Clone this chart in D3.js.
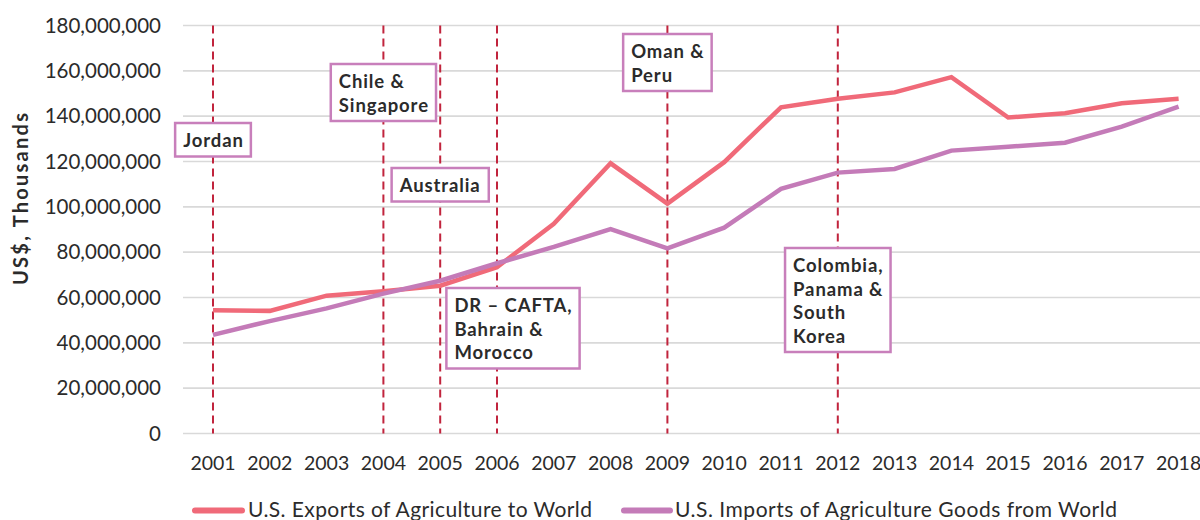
<!DOCTYPE html>
<html><head><meta charset="utf-8">
<script src="https://cdn.jsdelivr.net/npm/d3@7"></script>
<style>
html,body{margin:0;padding:0;background:#fff;}
svg{display:block;font-family:Lato,"Open Sans",sans-serif;}
</style></head>
<body>
<svg id="chart" width="1200" height="520"></svg>
<script>
const years = [2001,2002,2003,2004,2005,2006,2007,2008,2009,2010,2011,2012,2013,2014,2015,2016,2017,2018];
const exportsWorld = [54.4,54.1,60.8,62.8,65.2,73.4,92.5,119.2,101.4,119.7,143.9,147.7,150.5,157.2,139.4,141.3,145.7,147.7].map(v=>v*1e6);
const importsWorld = [43.5,49.6,55.2,61.7,67.4,75.1,82.3,90.2,81.7,90.8,107.9,115.1,116.7,124.8,126.5,128.3,135.4,144.2].map(v=>v*1e6);
const yTicks = [0,20e6,40e6,60e6,80e6,100e6,120e6,140e6,160e6,180e6];
const seriesNames = ["U.S. Exports of Agriculture to World","U.S. Imports of Agriculture Goods from World"];
const agreementYears = [2001,2004,2005,2006,2009,2012];
const agreementLabels = [["Jordan"],["Chile &","Singapore"],["Australia"],["DR \u2013 CAFTA,","Bahrain &","Morocco"],["Oman &","Peru"],["Colombia,","Panama &","South","Korea"]];

// layout (pixel placement of annotation boxes)
const boxTop = [123,64,168,288,34,248];
const boxDx = [0,0,0,16,0,0];

const colors = {exp:"#f06a79", imp:"#c47bb8", drop:"#c1243d", grid:"#d9d9d9", box:"#c87fbb", text:"#2b2b2b"};

const svg = d3.select("#chart");
const x = d3.scalePoint().domain(years).range([184.6,1207]).padding(0.5);
const y = d3.scaleLinear().domain([0,180e6]).range([433.5,25.5]);
const gridX0 = 183, gridX1 = 1200;

// grid
svg.append("g").selectAll("line").data(yTicks).join("line")
  .attr("x1",gridX0).attr("x2",gridX1)
  .attr("y1",d=>y(d)).attr("y2",d=>y(d))
  .attr("stroke",colors.grid).attr("stroke-width",1.6);

// y axis labels
const fmt = d3.format(",");
svg.append("g").selectAll("text").data(yTicks).join("text")
  .attr("x",161).attr("y",d=>y(d)).attr("dy","0.35em")
  .attr("text-anchor","end").attr("font-size",20.5).attr("fill",colors.text)
  .text(d=>fmt(d));

// x axis labels
svg.append("g").selectAll("text").data(years).join("text")
  .attr("x",d=>x(d)).attr("y",463).attr("dy","0.35em")
  .attr("text-anchor","middle").attr("font-size",19.5).attr("fill",colors.text)
  .text(d=>d);

// y title
svg.append("text").attr("transform","translate(21,199) rotate(-90)")
  .attr("text-anchor","middle").attr("dy","0.35em")
  .attr("font-size",20).attr("font-weight","bold").attr("fill",colors.text)
  .attr("textLength",172).attr("lengthAdjust","spacing")
  .text("US$, Thousands");

// dashed vertical lines
svg.append("g").selectAll("line").data(agreementYears).join("line")
  .attr("x1",d=>x(d)).attr("x2",d=>x(d))
  .attr("y1",y(180e6)).attr("y2",y(0))
  .attr("stroke",colors.drop).attr("stroke-width",2).attr("stroke-dasharray","8,5");

// series lines
const line = d3.line().x((d,i)=>x(years[i])).y(d=>y(d));
svg.append("path").datum(exportsWorld).attr("d",line)
  .attr("fill","none").attr("stroke",colors.exp).attr("stroke-width",4.5).attr("stroke-linejoin","miter");
svg.append("path").datum(importsWorld).attr("d",line)
  .attr("fill","none").attr("stroke",colors.imp).attr("stroke-width",4.5).attr("stroke-linejoin","miter");

// annotation boxes
const lh = 23.5, ls = 0.9;
agreementYears.forEach((yr,i)=>{
  const g = svg.append("g");
  const rect = g.append("rect");
  const t = g.append("text").attr("font-size",18.5).attr("font-weight","bold")
    .attr("letter-spacing",ls).attr("fill",colors.text);
  agreementLabels[i].forEach((s,j)=>{
    t.append("tspan").attr("x",0).attr("y",j*lh).text(s);
  });
  const bb = t.node().getBBox();
  const padX = 8;
  const w = bb.width - ls + padX*2;
  const h = agreementLabels[i].length*lh + 10;
  const cx = x(yr) + boxDx[i];
  const left = cx - w/2, top = boxTop[i];
  rect.attr("x",left).attr("y",top).attr("width",w).attr("height",h)
    .attr("fill","#fff").attr("stroke",colors.box).attr("stroke-width",2.5);
  t.attr("transform",`translate(${left+padX},${top+24})`);
});

// legend
const leg = [{c:colors.exp,x1:195,x2:242,tx:248,len:344,name:seriesNames[0]},{c:colors.imp,x1:624,x2:670,tx:675,len:442,name:seriesNames[1]}];
leg.forEach(l=>{
  svg.append("line").attr("x1",l.x1).attr("x2",l.x2).attr("y1",510.5).attr("y2",510.5)
    .attr("stroke",l.c).attr("stroke-width",6).attr("stroke-linecap","round");
  svg.append("text").attr("x",l.tx).attr("y",510).attr("dy","0.35em")
    .attr("font-size",21).attr("fill",colors.text)
    .attr("textLength",l.len).attr("lengthAdjust","spacing").text(l.name);
});
</script>
</body></html>
